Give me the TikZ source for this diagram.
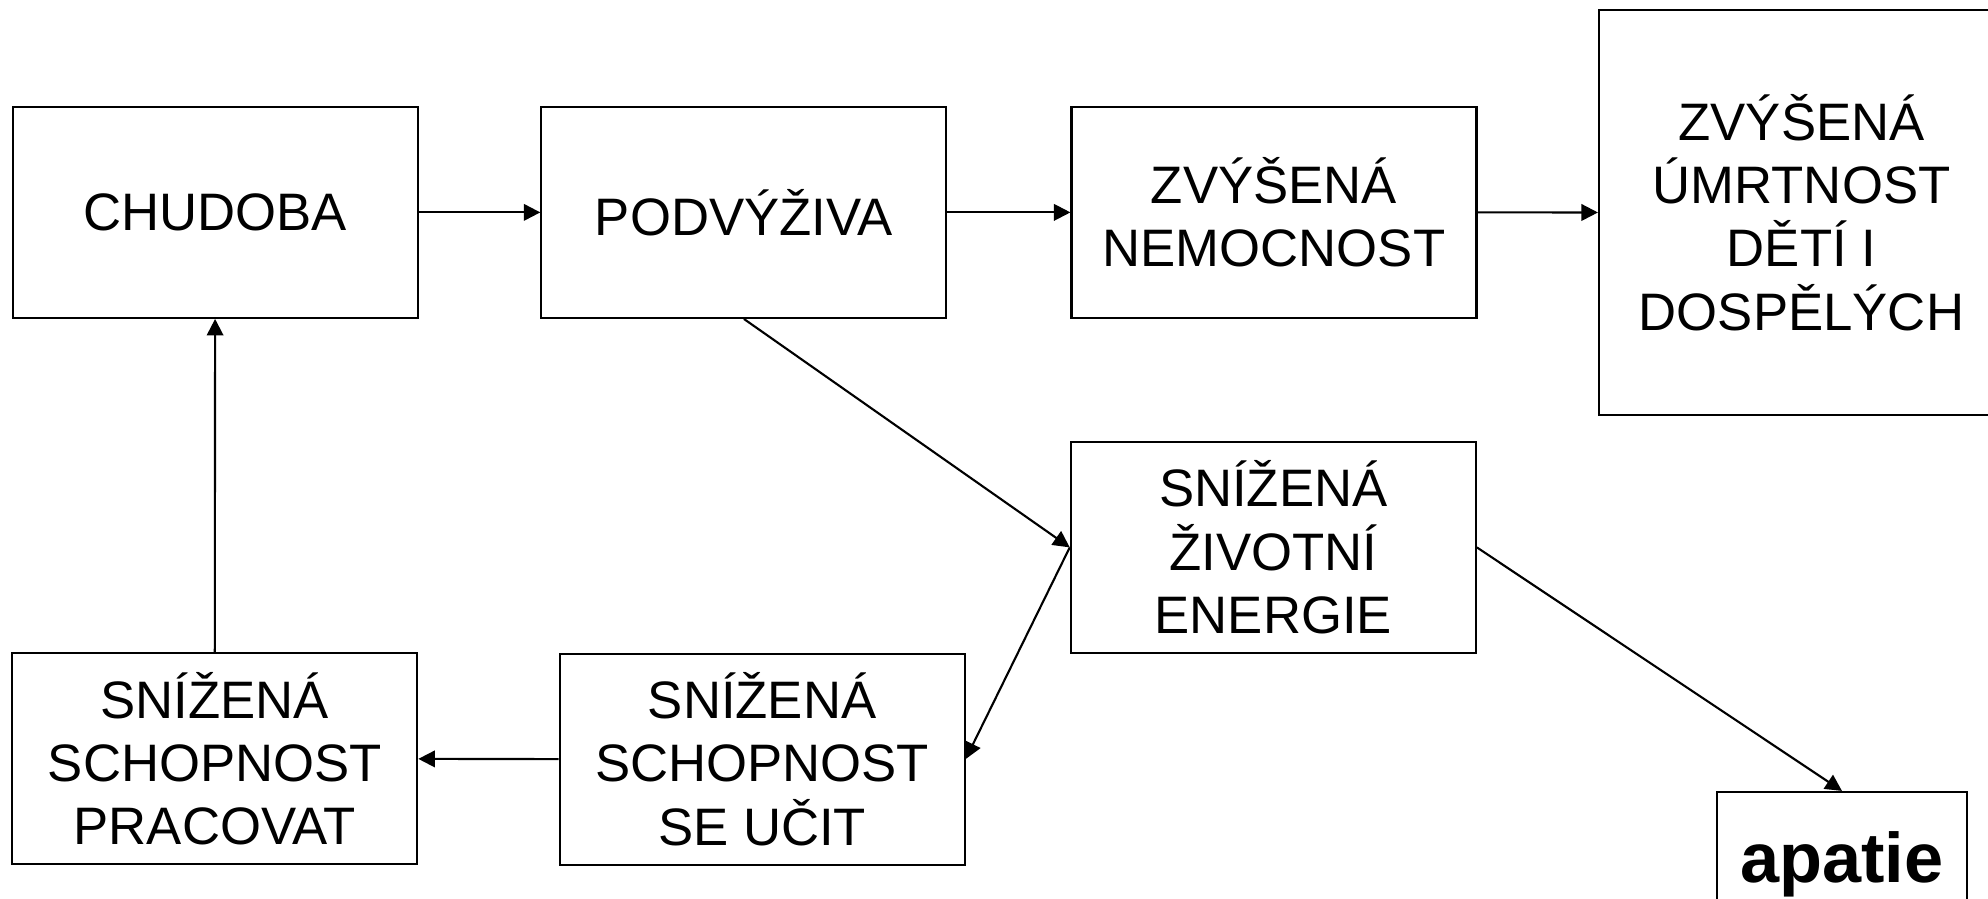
\documentclass[tikz,border=0pt]{standalone}
\usepackage{fontspec}
\setmainfont{Liberation Sans}
\usetikzlibrary{arrows.meta}
\tikzset{
 box/.style={draw, line width=0.6pt, minimum width=4.05cm, minimum height=2.11cm, inner sep=0pt, align=center, font=\fontsize{15}{18}\selectfont},
 flow/.style={line width=0.6pt, -{Triangle[length=4.7pt,width=4.7pt]}}
}
\begin{document}
\begin{tikzpicture}[y=-1cm]
\useasboundingbox (0,0) rectangle (19.88,8.99);
\node[box] (chudoba) at (2.151,2.124) {CHUDOBA};
\node[box] (podvyziva) at (7.439,2.124) {PODVÝŽIVA};
\node[box] (nemocnost) at (12.74,2.124) {ZVÝŠENÁ\\NEMOCNOST};
\node[box, minimum height=4.05cm] (umrtnost) at (18.015,2.125) {ZVÝŠENÁ\\ÚMRTNOST\\DĚTÍ I\\DOSPĚLÝCH};
\node[box] (energie) at (12.733,5.474) {SNÍŽENÁ\\ŽIVOTNÍ\hspace*{0.5em}\\ENERGIE};
\node[box] (ucit) at (7.621,7.591) {SNÍŽENÁ\\SCHOPNOST\\SE UČIT};
\node[box] (pracovat) at (2.148,7.589) {SNÍŽENÁ\\SCHOPNOST\\PRACOVAT};
\node[box, minimum width=2.5cm, minimum height=1.44cm, font=\fontsize{20}{24}\selectfont\bfseries] (apatie) at (18.42,8.64) {apatie};
\draw[flow] (chudoba.east) -- (podvyziva.west);
\draw[flow] (podvyziva.east) -- (nemocnost.west);
\draw[flow] (nemocnost.east) -- (umrtnost.west);
\draw[flow] (podvyziva.south) -- (energie.west);
\draw[flow] (energie.west) -- (ucit.east);
\draw[flow] (ucit.west) -- (pracovat.east);
\draw[flow] (pracovat.north) -- (chudoba.south);
\draw[flow] (energie.east) -- (apatie.north);
\end{tikzpicture}
\end{document}
